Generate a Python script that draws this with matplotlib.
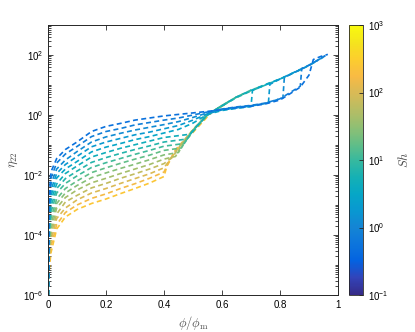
"""eta_22 vs phi/phi_m, one dashed trajectory per Sh, coloured by Sh (parula)."""
import matplotlib
matplotlib.use("Agg")
import matplotlib.pyplot as plt
import numpy as np
from matplotlib.colors import LinearSegmentedColormap, LogNorm
from matplotlib.ticker import (FixedLocator, LogLocator, NullLocator,
                               NullFormatter, FormatStrFormatter)

plt.rcParams["font.family"] = ["Liberation Sans", "DejaVu Sans"]
plt.rcParams["mathtext.fontset"] = "cm"

# Sh of each trajectory (low Sh drawn last, on top)
SH = [0.5, 0.8, 1.2, 1.9, 3.0, 4.6, 7.0, 11, 17, 27, 42, 65, 100, 160, 250]

# shared start of every trajectory: phi/phi_m and log10(eta_22)
PHI_HEAD = [0.001, 0.003, 0.01, 0.03, 0.06, 0.1, 0.15, 0.2, 0.25, 0.3, 0.35, 0.4]
LOG_ETA_HEAD = [
    [-6.0, -3.0, -1.9, -1.45, -1.15, -0.9, -0.55, -0.38, -0.28, -0.17, -0.1, -0.03],
    [-6.0, -3.15, -2.1, -1.6, -1.3, -1.05, -0.72, -0.55, -0.45, -0.33, -0.25, -0.17],
    [-6.0, -3.3, -2.3, -1.8, -1.5, -1.22, -0.9, -0.73, -0.61, -0.5, -0.41, -0.32],
    [-6.0, -3.5, -2.5, -1.95, -1.65, -1.38, -1.06, -0.9, -0.78, -0.66, -0.57, -0.46],
    [-6.0, -3.65, -2.7, -2.1, -1.8, -1.55, -1.23, -1.07, -0.95, -0.82, -0.72, -0.6],
    [-6.0, -3.8, -2.85, -2.3, -1.95, -1.7, -1.4, -1.25, -1.11, -0.99, -0.87, -0.75],
    [-6.0, -4.0, -3.05, -2.45, -2.12, -1.87, -1.58, -1.42, -1.28, -1.15, -1.03, -0.9],
    [-6.0, -4.15, -3.25, -2.6, -2.28, -2.03, -1.75, -1.59, -1.45, -1.31, -1.18, -1.04],
    [-6.0, -4.3, -3.45, -2.8, -2.45, -2.2, -1.92, -1.76, -1.61, -1.47, -1.34, -1.18],
    [-6.0, -4.5, -3.65, -2.95, -2.6, -2.35, -2.09, -1.93, -1.78, -1.64, -1.49, -1.33],
    [-6.0, -4.65, -3.85, -3.1, -2.75, -2.5, -2.26, -2.11, -1.95, -1.8, -1.65, -1.47],
    [-6.0, -4.8, -4.0, -3.3, -2.9, -2.68, -2.43, -2.28, -2.11, -1.96, -1.8, -1.62],
    [-6.0, -5.0, -4.2, -3.45, -3.1, -2.83, -2.6, -2.45, -2.28, -2.12, -1.96, -1.76],
    [-6.0, -5.15, -4.4, -3.65, -3.25, -3.0, -2.78, -2.63, -2.45, -2.29, -2.11, -1.9],
    [-6.0, -5.3, -4.6, -3.8, -3.4, -3.15, -2.95, -2.8, -2.62, -2.45, -2.27, -2.05],
]

# rest of each trajectory (loop for low Sh, band for higher Sh)
PHI_TAIL = [
    [0.45, 0.5, 0.55, 0.6, 0.65, 0.7, 0.75, 0.8, 0.83, 0.87, 0.9, 0.915, 0.94, 0.965],
    [0.45, 0.5, 0.55, 0.6, 0.65, 0.7, 0.75, 0.8, 0.84, 0.87, 0.875, 0.9, 0.96],
    [0.45, 0.5, 0.55, 0.6, 0.65, 0.7, 0.75, 0.81, 0.815, 0.85, 0.9, 0.955],
    [0.45, 0.5, 0.55, 0.6, 0.65, 0.7, 0.76, 0.765, 0.8, 0.85, 0.9, 0.95],
    [0.45, 0.5, 0.55, 0.6, 0.65, 0.7, 0.705, 0.75, 0.8, 0.85, 0.9, 0.93],
    [0.49, 0.51, 0.55, 0.6, 0.65, 0.7, 0.75, 0.8, 0.85, 0.88],
    [0.48, 0.5, 0.55, 0.6, 0.65, 0.7, 0.75, 0.8],
    [0.47, 0.49, 0.52, 0.55, 0.6, 0.65, 0.7, 0.74],
    [0.46, 0.48, 0.5, 0.55, 0.6, 0.65, 0.7],
    [0.45, 0.47, 0.5, 0.55, 0.6, 0.66],
    [0.44, 0.46, 0.5, 0.55, 0.6, 0.63],
    [0.43, 0.45, 0.5, 0.55, 0.61],
    [0.42, 0.45, 0.5, 0.55, 0.59],
    [0.415, 0.44, 0.5, 0.55, 0.57],
    [0.41, 0.44, 0.5, 0.56],
]
LOG_ETA_TAIL = [
    [0.02, 0.07, 0.12, 0.18, 0.24, 0.29, 0.37, 0.5, 0.68, 0.93, 1.33, 1.85, 1.95, 2.02],
    [-0.1, 0.0, 0.1, 0.2, 0.27, 0.32, 0.4, 0.54, 0.78, 0.96, 1.55, 1.66, 2.0],
    [-0.22, -0.08, 0.07, 0.19, 0.26, 0.31, 0.39, 0.57, 1.25, 1.42, 1.65, 1.97],
    [-0.35, -0.17, 0.04, 0.17, 0.24, 0.3, 0.4, 1.02, 1.2, 1.43, 1.66, 1.93],
    [-0.48, -0.27, 0.02, 0.15, 0.22, 0.28, 0.82, 1.0, 1.2, 1.42, 1.65, 1.82],
    [-0.64, -0.4, 0.0, 0.31, 0.6, 0.82, 1.02, 1.2, 1.42, 1.55],
    [-0.8, -0.55, 0.02, 0.3, 0.58, 0.8, 1.0, 1.2],
    [-0.95, -0.65, -0.3, 0.0, 0.32, 0.6, 0.83, 0.97],
    [-1.1, -0.78, -0.5, 0.02, 0.3, 0.6, 0.82],
    [-1.25, -0.9, -0.52, 0.0, 0.32, 0.64],
    [-1.38, -1.0, -0.5, 0.03, 0.3, 0.48],
    [-1.4, -1.1, -0.48, 0.0, 0.35],
    [-1.5, -1.05, -0.5, 0.02, 0.25],
    [-1.6, -1.15, -0.55, -0.02, 0.12],
    [-1.7, -1.2, -0.58, 0.05],
]

# MATLAB parula, sampled
PARULA = [
    (0.2081, 0.1663, 0.5292), (0.1959, 0.2645, 0.7279), (0.0117, 0.3875, 0.8820),
    (0.0498, 0.4586, 0.8641), (0.0793, 0.5200, 0.8312), (0.0343, 0.5966, 0.8199),
    (0.0228, 0.6535, 0.7768), (0.0843, 0.6928, 0.7062), (0.2178, 0.7250, 0.6193),
    (0.3953, 0.7459, 0.5244), (0.5709, 0.7485, 0.4494), (0.7184, 0.7411, 0.3905),
    (0.8507, 0.7299, 0.3360), (0.9739, 0.7314, 0.2666), (0.9880, 0.8066, 0.1794),
    (0.9589, 0.8949, 0.1132), (0.9763, 0.9831, 0.0538),
]
cmap = LinearSegmentedColormap.from_list("parula", PARULA)
norm = LogNorm(vmin=0.1, vmax=1000)

fig = plt.figure(figsize=(4.15, 3.32), dpi=100)
ax = fig.add_axes([48 / 415, 37 / 332, 290 / 415, 270 / 332])
cax = fig.add_axes([349 / 415, 37 / 332, 14 / 415, 270 / 332])

for i in reversed(range(len(SH))):
    phi = np.array(PHI_HEAD + PHI_TAIL[i])
    eta = 10 ** np.array(LOG_ETA_HEAD[i] + LOG_ETA_TAIL[i])
    ax.plot(phi, eta, color=cmap(norm(SH[i])), lw=1.2, dashes=(3, 2))

ax.set_yscale("log")
ax.set_xlim(0, 1)
ax.set_ylim(1e-6, 1e3)
ax.xaxis.set_major_locator(FixedLocator([0, 0.2, 0.4, 0.6, 0.8, 1.0]))
ax.xaxis.set_major_formatter(FormatStrFormatter("%g"))
ax.yaxis.set_major_locator(FixedLocator([1e-6, 1e-4, 1e-2, 1e0, 1e2]))
ax.yaxis.set_minor_locator(LogLocator(base=10, subs=np.arange(1, 10), numticks=30))
ax.yaxis.set_minor_formatter(NullFormatter())
ax.tick_params(which="both", direction="in", top=True, right=True,
               labelsize=7, color="0.15", width=0.6)
ax.tick_params(which="major", length=3.5)
ax.tick_params(which="minor", length=2)
for sp in ax.spines.values():
    sp.set_color("0.15"); sp.set_linewidth(0.7)
ax.set_xlabel(r"$\phi/\phi_{\rm m}$", fontsize=9, color="0.3", labelpad=3)
ax.set_ylabel(r"$\eta_{22}$", fontsize=9, color="0.3", labelpad=2)

cb = fig.colorbar(plt.cm.ScalarMappable(norm=norm, cmap=cmap), cax=cax)
cb.set_ticks([0.1, 1, 10, 100, 1000])
cb.ax.yaxis.set_minor_locator(NullLocator())
cb.ax.tick_params(direction="in", labelsize=7, length=3, color="0.15", width=0.6)
cb.outline.set_edgecolor("0.15"); cb.outline.set_linewidth(0.6)
cb.set_label(r"$Sh$", fontsize=9, color="0.3", labelpad=6)

fig.savefig("out.png", dpi=100)
